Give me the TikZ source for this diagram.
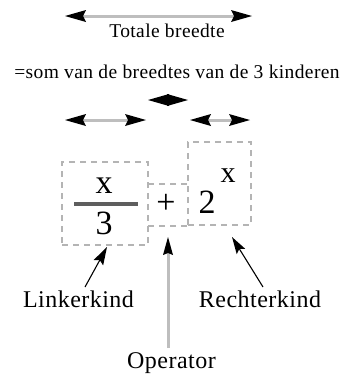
\documentclass[tikz,border=0pt]{standalone}
\usepackage{fontspec}
\setmainfont{Liberation Serif}
\newfontfamily\lblfont[LetterSpace=2]{Liberation Serif}
\usetikzlibrary{calc}
\definecolor{framegray}{HTML}{B4B4B4}
\definecolor{shaftgray}{HTML}{BEBEBE}
\definecolor{bargray}{HTML}{5E5E5E}
% filled barbed head with its point at #1, pointing away from #2;
% #3 length, #4 half width, #5 distance of the notch from the point
\newcommand\barbhead[5]{%
  \fill[black] (#1) -- ($(#1)!#3!(#2)!#4!90:(#2)$) -- ($(#1)!#5!(#2)$)
    -- ($(#1)!#3!(#2)!#4!-90:(#2)$) -- cycle;}
% dimension line with a head at both ends
\newcommand\dimline[2]{%
  \draw[measure] (#1) -- (#2);
  \barbhead{#1}{#2}{21pt}{6pt}{18pt}
  \barbhead{#2}{#1}{21pt}{6pt}{18pt}}
\tikzset{
  measure/.style={draw=shaftgray,line width=3pt,shorten <=12pt,shorten >=12pt},
  pointer/.style={draw=black,line width=1.1pt,shorten >=10pt},
  greypointer/.style={draw=shaftgray,line width=3pt,shorten >=10pt},
  frame/.style={draw=framegray,line width=2pt,dash pattern=on 6pt off 5pt},
  box/.style={inner sep=0pt,outer sep=0pt},
  caption/.style={font=\lblfont\fontsize{24}{28}\selectfont,anchor=base,inner sep=0pt},
  note/.style={font=\lblfont\fontsize{19.5}{23}\selectfont,anchor=base,inner sep=0pt},
  term/.style={font=\fontsize{34}{40}\selectfont,anchor=base,inner sep=0pt},
  supterm/.style={font=\fontsize{30}{36}\selectfont,anchor=base,inner sep=0pt},
}
\begin{document}
\begin{tikzpicture}[x=1pt,y=-1pt]
\useasboundingbox (0,0) rectangle (348,375);

% total width
\coordinate (totL) at (65,16);
\coordinate (totR) at (252,16);
\dimline{totL}{totR}
\node[note] (tot) at (167,37) {Totale breedte};
\node[note] (sum) at (177,78) {=som van de breedtes van de 3 kinderen};

% widths of the three children
\coordinate (opL) at (148,100);
\coordinate (opR) at (188,100);
\barbhead{opL}{opR}{21pt}{6pt}{21pt}
\barbhead{opR}{opL}{21pt}{6pt}{21pt}
\coordinate (lwL) at (65,120);
\coordinate (lwR) at (146,120);
\dimline{lwL}{lwR}
\coordinate (rwL) at (190,120);
\coordinate (rwR) at (250,120);
\dimline{rwL}{rwR}

% the boxes
\node[box,frame,minimum width=86pt,minimum height=83pt] (lbox) at (105,203.5) {};
\node[box,minimum width=40pt,minimum height=42pt] (pbox) at (168,205) {};
\draw[frame] (pbox.north west) -- (pbox.north east);
\draw[frame] (pbox.south west) -- (pbox.south east);
\node[box,frame,minimum width=63pt,minimum height=83pt] (rbox) at (219.5,183.5) {};

% left child: x/3
\node[term] (num) at (104,193) {x};
\draw[bargray,line width=4pt] (74,204) -- (138,204);
\node[term] (den) at (104,234) {3};

% operator
\node[term] (plus) at (166,213) {+};

% right child: 2^x
\node[term] (base) at (207,213) {2};
\node[supterm] (expo) at (228,182) {x};

% labels and pointers
\node[caption] (lk) at (78.5,307) {Linkerkind};
\node[caption] (rk) at (260,307) {Rechterkind};
\node[caption] (op) at (171.5,368) {Operator};

\coordinate (lkTail) at (85,287);
\coordinate (lkTip) at (107,247);
\draw[pointer] (lkTail) -- (lkTip);
\barbhead{lkTip}{lkTail}{18pt}{5.5pt}{15pt}
\coordinate (opTail) at (168,348);
\coordinate (opTip) at (168,237);
\draw[greypointer] (opTail) -- (opTip);
\barbhead{opTip}{opTail}{18pt}{5pt}{16pt}
\coordinate (rkTail) at (263,287);
\coordinate (rkTip) at (232,237);
\draw[pointer] (rkTail) -- (rkTip);
\barbhead{rkTip}{rkTail}{17pt}{5pt}{14pt}
\end{tikzpicture}
\end{document}
